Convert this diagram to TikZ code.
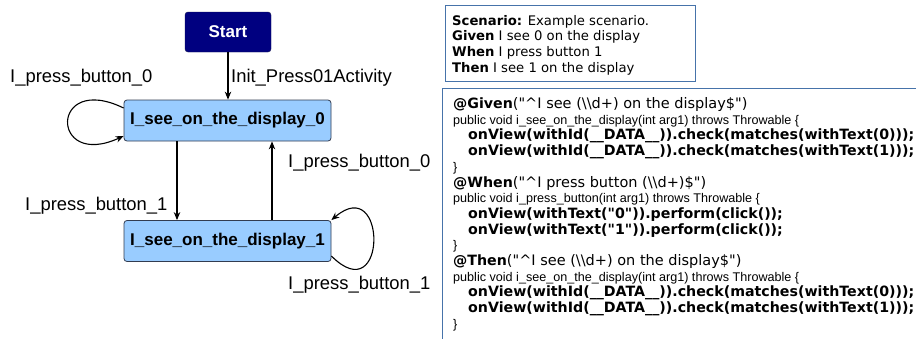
\documentclass[tikz,border=0pt]{standalone}
\usepackage{fontspec}
\setmainfont{Liberation Sans}
\newfontfamily\verd{DejaVu Sans}
\usetikzlibrary{arrows.meta,calc}
\definecolor{navyfill}{RGB}{0,0,128}
\definecolor{navyline}{RGB}{20,20,80}
\definecolor{statefill}{RGB}{153,204,255}
\definecolor{statedraw}{RGB}{50,60,80}
\definecolor{boxblue}{RGB}{70,115,170}
\newcommand{\vbold}[1]{{\verd\bfseries\fontsize{14.2}{16}\selectfont #1}}
\newcommand{\vreg}[1]{{\verd\fontsize{14.5}{16}\selectfont #1}}
\tikzset{
  startbox/.style={fill=navyfill, draw=navyline, rounded corners=3pt, minimum width=86pt, minimum height=40pt, text=white, inner sep=0, font=\bfseries\fontsize{17}{20}\selectfont},
  statebox/.style={fill=statefill, draw=statedraw, line width=0.8pt, rounded corners=3pt, minimum width=207pt, minimum height=41pt, inner sep=0, font=\bfseries\fontsize{17}{20}\selectfont},
  lbl/.style={inner sep=0, anchor=base west, font=\fontsize{18.4}{20}\selectfont},
  arr/.style={line width=1.1pt, -{Stealth[length=8pt,width=6.5pt]}},
  textbox/.style={draw=boxblue, line width=1.3pt, inner sep=0, anchor=north west},
  codeline/.style={inner sep=0, anchor=base west, font=\fontsize{12.6}{16}\selectfont},
  scline/.style={inner sep=0, anchor=base west, font=\verd\fontsize{13.2}{16}\selectfont}
}
\begin{document}
\begin{tikzpicture}[x=1pt,y=-1pt]
\useasboundingbox (0,0) rectangle (916,338);
\clip (0,0) rectangle (916,338);
\fill[white] (0,0) rectangle (916,338);

% diagram nodes
\node[startbox] (start) at (228,32) {Start};
\node[statebox] (s0) at (227.5,120.5) {I\_see\_on\_the\_display\_0};
\node[statebox] (s1) at (227.5,241) {I\_see\_on\_the\_display\_1};

% connectors
\draw[arr] (start.south) -- (start.south |- s0.north);
\draw[arr] ([xshift=-50.5pt]s0.south) -- ([xshift=-50.5pt]s1.north);
\draw[arr] ([xshift=44.5pt]s1.north) -- ([xshift=44.5pt]s0.south);
\draw[arr] ([yshift=12.5pt]s0.west) .. controls +(-74,-36) and +(-74,34) .. ([yshift=-15.5pt]s0.west);
\draw[arr] ([yshift=-15pt]s1.east) .. controls +(56,56) and +(56,-48) .. (s1.north east);

% labels
\node[lbl] (lab0) at (10,82) {I\_press\_button\_0};
\node[lbl] (labinit) at (231,82) {Init\_Press01Activity};
\node[lbl] (lab2) at (288,167) {I\_press\_button\_0};
\node[lbl] (lab3) at (25,210) {I\_press\_button\_1};
\node[lbl] (lab4) at (288,289) {I\_press\_button\_1};

% scenario box
\node[textbox, minimum width=250pt, minimum height=76pt] (scen) at (445,5) {};
\node[scline] (sc1) at (452,25) {\textbf{Scenario:} Example scenario.};
\node[scline] (sc2) at (452,40.7) {\textbf{Given} I see 0 on the display};
\node[scline] (sc3) at (452,56.3) {\textbf{When} I press button 1};
\node[scline] (sc4) at (452,72) {\textbf{Then} I see 1 on the display};

% code box
\node[textbox, minimum width=520pt, minimum height=280pt] (code) at (442,88) {};
\node[codeline] (c1) at (453,108.5) {\vbold{@Given}\vreg{("\textasciicircum I see (\textbackslash\textbackslash d+) on the display\$")}};
\node[codeline] (c2) at (453,124.2) {public void i\_see\_on\_the\_display(int arg1) throws Throwable \{};
\node[codeline] (c3) at (468,139.9) {\vbold{onView(withId(\_\_DATA\_\_)).check(matches(withText(0)));}};
\node[codeline] (c4) at (468,155.6) {\vbold{onView(withId(\_\_DATA\_\_)).check(matches(withText(1)));}};
\node[codeline] (c5) at (453,171.3) {\}};
\node[codeline] (c6) at (453,187.0) {\vbold{@When}\vreg{("\textasciicircum I press button (\textbackslash\textbackslash d+)\$")}};
\node[codeline] (c7) at (453,202.7) {public void i\_press\_button(int arg1) throws Throwable \{};
\node[codeline] (c8) at (468,218.4) {\vbold{onView(withText("0")).perform(click());}};
\node[codeline] (c9) at (468,234.1) {\vbold{onView(withText("1")).perform(click());}};
\node[codeline] (c10) at (453,249.8) {\}};
\node[codeline] (c11) at (453,265.5) {\vbold{@Then}\vreg{("\textasciicircum I see (\textbackslash\textbackslash d+) on the display\$")}};
\node[codeline] (c12) at (453,281.2) {public void i\_see\_on\_the\_display(int arg1) throws Throwable \{};
\node[codeline] (c13) at (468,296.9) {\vbold{onView(withId(\_\_DATA\_\_)).check(matches(withText(0)));}};
\node[codeline] (c14) at (468,312.6) {\vbold{onView(withId(\_\_DATA\_\_)).check(matches(withText(1)));}};
\node[codeline] (c15) at (453,328.3) {\}};
\end{tikzpicture}
\end{document}
